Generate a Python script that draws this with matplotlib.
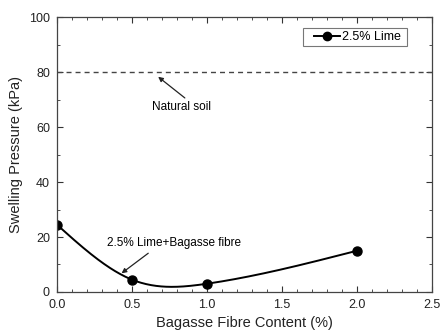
import matplotlib
matplotlib.use("Agg")
import matplotlib.pyplot as plt
import numpy as np
from matplotlib.legend_handler import HandlerLine2D
from matplotlib.lines import Line2D
from matplotlib.ticker import MultipleLocator

plt.rcParams["font.family"] = ["Liberation Sans", "DejaVu Sans"]

fibre = [0.0, 0.5, 1.0, 2.0]
pressure = [24.5, 4.5, 3.0, 15.0]
natural_soil = 80
series_label = "2.5% Lime"


def natural_spline(x, y, xs):
    """自然三次スプライン（端点の2階微分=0）"""
    x = np.asarray(x, float)
    y = np.asarray(y, float)
    n = len(x)
    h = np.diff(x)
    A = np.zeros((n, n))
    b = np.zeros(n)
    A[0, 0] = 1
    A[-1, -1] = 1
    for i in range(1, n - 1):
        A[i, i - 1] = h[i - 1]
        A[i, i] = 2 * (h[i - 1] + h[i])
        A[i, i + 1] = h[i]
        b[i] = 6 * ((y[i + 1] - y[i]) / h[i] - (y[i] - y[i - 1]) / h[i - 1])
    M = np.linalg.solve(A, b)
    out = np.empty_like(xs)
    for k, xv in enumerate(xs):
        i = min(np.searchsorted(x, xv, side="right") - 1, n - 2)
        t1 = x[i + 1] - xv
        t0 = xv - x[i]
        out[k] = (M[i] * t1**3 + M[i + 1] * t0**3) / (6 * h[i]) \
            + (y[i] / h[i] - M[i] * h[i] / 6) * t1 \
            + (y[i + 1] / h[i] - M[i + 1] * h[i] / 6) * t0
    return out


fig = plt.figure(figsize=(4.48, 3.36), dpi=100)
ax = fig.add_axes([0.127, 0.131, 0.837, 0.818])

xs = np.linspace(fibre[0], fibre[-1], 300)
ax.plot(xs, natural_spline(fibre, pressure, xs), color="black", lw=1.4)
ax.plot(fibre, pressure, "o", color="black", ms=6.5)

ax.axhline(natural_soil, color="#444444", lw=1.0, ls=(0, (3.6, 2.9)))

# 注釈（矢印と文字は別々に置く）
arrow = dict(arrowstyle="-|>", color="#222222", lw=0.9,
             mutation_scale=7, shrinkA=0, shrinkB=0)
ax.annotate("", xy=(0.675, 78.3), xytext=(0.853, 70.6), arrowprops=arrow)
ax.text(0.833, 67.3, "Natural soil", ha="center", va="center", fontsize=8.5)
ax.annotate("", xy=(0.431, 6.8), xytext=(0.609, 14.1), arrowprops=arrow)
ax.text(0.783, 17.8, "2.5% Lime+Bagasse fibre", ha="center", va="center",
        fontsize=8.5)

handle = Line2D([], [], color="black", lw=1.4, marker="o", ms=6)
leg = ax.legend([handle], [series_label + " "], loc="upper right", fontsize=9,
                frameon=True, fancybox=False, edgecolor="#555555",
                borderpad=0.22, borderaxespad=0, handlelength=2.75,
                handletextpad=0.16, bbox_to_anchor=(0.935, 0.959),
                handler_map={Line2D: HandlerLine2D(xpad=0.66)})
leg.get_frame().set_linewidth(0.8)

ax.set_xlim(0, 2.5)
ax.set_ylim(0, 100)
ax.xaxis.set_major_locator(MultipleLocator(0.5))
ax.xaxis.set_minor_locator(MultipleLocator(0.1))
ax.yaxis.set_major_locator(MultipleLocator(20))
ax.yaxis.set_minor_locator(MultipleLocator(10))
ax.tick_params(which="both", direction="in", top=True, right=True,
               labelsize=9, colors="#333333", labelcolor="#222222")
ax.tick_params(which="major", length=4.5, pad=5)
ax.tick_params(which="minor", length=2.5)
for s in ax.spines.values():
    s.set_color("#444444")
    s.set_linewidth(0.9)

ax.set_xlabel("Bagasse Fibre Content (%)", fontsize=10.5, color="#222222")
ax.set_ylabel("Swelling Pressure (kPa)", fontsize=10.5, color="#222222")

fig.savefig("out.png", dpi=100)
